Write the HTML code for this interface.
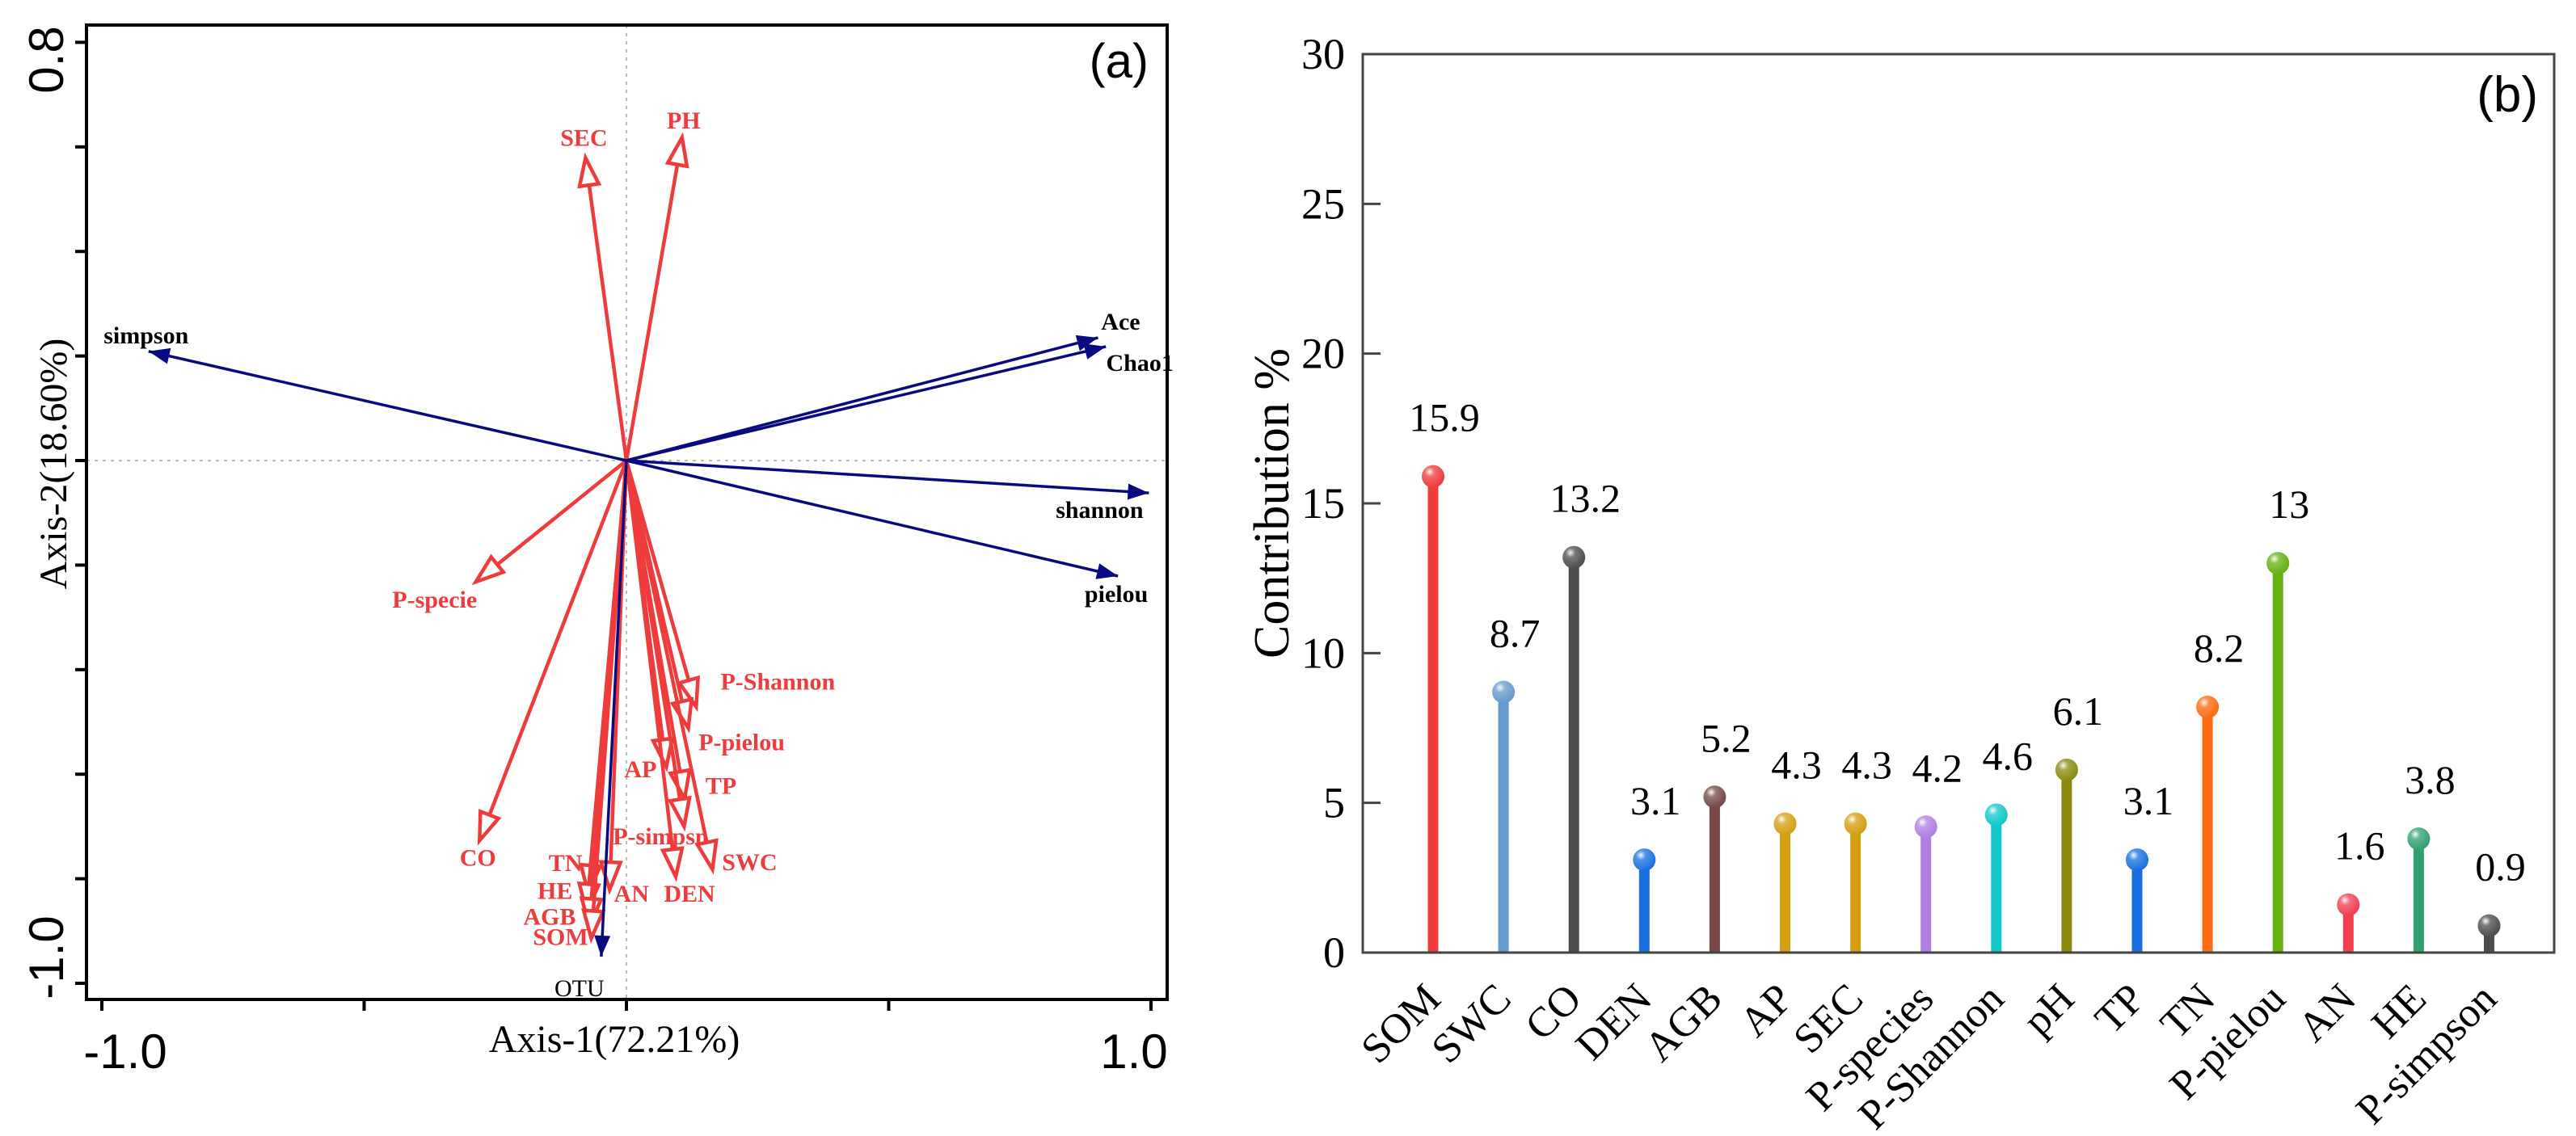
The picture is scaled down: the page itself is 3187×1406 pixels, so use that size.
<!DOCTYPE html>
<html><head><meta charset="utf-8"><style>
html,body{margin:0;padding:0;background:#fff;}
svg{display:block;}
</style></head><body>
<svg id="fig" xmlns="http://www.w3.org/2000/svg" width="3187" height="1406" viewBox="0 0 3187 1406">
<defs>
<radialGradient id="shine" cx="0.35" cy="0.3" r="0.7">
<stop offset="0" stop-color="#fff" stop-opacity="0.95"/>
<stop offset="0.3" stop-color="#fff" stop-opacity="0.25"/>
<stop offset="1" stop-color="#fff" stop-opacity="0"/>
</radialGradient>
</defs>
<g id="pa"></g>
<g id="pb"></g>
</svg>
<script>
// ---------- Panel A data ----------
const envNames = ["SEC","PH","P-specie","CO","P-Shannon","P-pielou","AP","TP","P-simpsn","SWC","DEN","AN","TN","HE","AGB","SOM"];
const envX = [-0.078,0.106,-0.287,-0.280,0.133,0.118,0.076,0.111,0.110,0.164,0.094,-0.032,-0.073,-0.076,-0.071,-0.067];
const envY = [0.579,0.618,-0.232,-0.727,-0.471,-0.512,-0.586,-0.647,-0.700,-0.782,-0.796,-0.821,-0.827,-0.863,-0.891,-0.914];
const divNames = ["simpson","Ace","Chao1","shannon","pielou","OTU"];
const divX = [-0.911,0.899,0.914,0.996,0.937,-0.048];
const divY = [0.209,0.235,0.218,-0.062,-0.221,-0.949];
const xTickLabels = ["-1.0","1.0"];
const yTickLabels = ["0.8","-1.0"];
// label offsets (pixels, style only)
const envLabelOff = [[-2,-17],[2,-13],[-51,30],[-2,29],[101,-23],[66,25],[-32,11],[45,-8],[-29,20],[46,-1],[17,29],[27,13],[-28,-29],[-39,-18],[-49,-4],[-38,6]];
const divLabelOff = [[-3,-12],[28,-12],[42,28],[-61,29],[-2,30],[-27,47]];

// ---------- Panel B data ----------
const cats = ["SOM","SWC","CO","DEN","AGB","AP","SEC","P-species","P-Shannon","pH","TP","TN","P-pielou","AN","HE","P-simpson"];
const vals = [15.9,8.7,13.2,3.1,5.2,4.3,4.3,4.2,4.6,6.1,3.1,8.2,13,1.6,3.8,0.9];
const valLabels = ["15.9","8.7","13.2","3.1","5.2","4.3","4.3","4.2","4.6","6.1","3.1","8.2","13","1.6","3.8","0.9"];
const bTicks = [0,5,10,15,20,25,30];
const colors = ["#ee3b3b","#6699cc","#4d4d4d","#1a6fe0","#774747","#d4a012","#d4a012","#b07ee0","#12c8c8","#8a8a10","#1a6fe0","#ff6a10","#66b010","#f04050","#30a070","#4d4d4d"];

const NS="http://www.w3.org/2000/svg";
function mk(tag, attrs, parent){const e=document.createElementNS(NS,tag);for(const k in attrs)e.setAttribute(k,attrs[k]);parent.appendChild(e);return e;}

// ---------- Draw Panel A ----------
const pa=document.getElementById('pa');
const ax={L:107,R:1444,T:31,B:1237,ox:775,oy:570,ux:649,uy:647};
const sx=v=>ax.ox+v*ax.ux, sy=v=>ax.oy-v*ax.uy;
let e;
e=mk('line',{x1:sx(0),y1:ax.T,x2:sx(0),y2:ax.B,stroke:'#bbb','stroke-width':2,'stroke-dasharray':'4 6'},pa);


e=mk('line',{x1:ax.L,y1:sy(0),x2:ax.R,y2:sy(0),stroke:'#bbb','stroke-width':2,'stroke-dasharray':'4 6'},pa);


for(let i=0;i<=4;i++){const v=-1+i*0.5;
 e=mk('line',{x1:sx(v),y1:ax.B,x2:sx(v),y2:ax.B+14,stroke:'#000','stroke-width':4},pa);
 
 }
for(let i=0;i<=9;i++){const v=0.8-i*0.2;
 e=mk('line',{x1:ax.L-14,y1:sy(v),x2:ax.L,y2:sy(v),stroke:'#000','stroke-width':4},pa);
 
 }
[[-1,155],[1,1403]].forEach((p,i)=>{e=mk('text',{x:p[1],y:1322,'text-anchor':'middle','font-family':'Liberation Sans, sans-serif','font-size':60},pa);e.textContent=xTickLabels[i];
 
 });
[[0.8,74],[-1.0,1185]].forEach((p,i)=>{e=mk('text',{x:0,y:0,transform:`translate(78,${p[1]}) rotate(-90)`,'text-anchor':'middle','font-family':'Liberation Sans, sans-serif','font-size':60},pa);e.textContent=yTickLabels[i];
 
 });
e=mk('text',{x:760,y:1302,'text-anchor':'middle','font-family':'Liberation Serif, serif','font-size':48},pa);e.textContent='Axis-1(72.21%)';


e=mk('text',{x:0,y:0,transform:'translate(82,574) rotate(-90)','text-anchor':'middle','font-family':'Liberation Serif, serif','font-size':48},pa);e.textContent='Axis-2(18.60%)';


e=mk('text',{x:1421,y:96,'text-anchor':'end','font-family':'Liberation Sans, sans-serif','font-size':60},pa);e.textContent='(a)';


e=mk('line',{x1:665,y1:1236,x2:775,y2:1236,stroke:'#000','stroke-width':2},pa);



function arrowHead(x0,y0,x1,y1,len,w){const dx=x1-x0,dy=y1-y0,d=Math.hypot(dx,dy),ux=dx/d,uy=dy/d;
 const bx=x1-ux*len,by=y1-uy*len;return `${x1},${y1} ${bx-uy*w/2},${by+ux*w/2} ${bx+uy*w/2},${by-ux*w/2}`;}
envNames.forEach((n,i)=>{const x1=sx(envX[i]),y1=sy(envY[i]),x0=sx(0),y0=sy(0);
 const d=Math.hypot(x1-x0,y1-y0),k=(d-30)/d;
 const g=mk('g',{},pa);
 
 
 mk('line',{x1:x0,y1:y0,x2:x0+(x1-x0)*k,y2:y0+(y1-y0)*k,stroke:'#ee3b3b','stroke-width':4.5},g);
 mk('polygon',{points:arrowHead(x0,y0,x1,y1,34,24),fill:'#fff',stroke:'#ee3b3b','stroke-width':4.5,'stroke-linejoin':'miter'},g);
 const t=mk('text',{x:x1+envLabelOff[i][0],y:y1+envLabelOff[i][1]+2,'text-anchor':'middle','font-family':'Liberation Serif, serif','font-size':30,'font-weight':'bold',fill:'#ee3b3b'},g);
 t.textContent=n;
 
 
});
divNames.forEach((n,i)=>{const x1=sx(divX[i]),y1=sy(divY[i]),x0=sx(0),y0=sy(0);
 const g=mk('g',{},pa);
 
 
 mk('line',{x1:x0,y1:y0,x2:x1,y2:y1,stroke:'#0a0a80','stroke-width':3.5},g);
 mk('polygon',{points:arrowHead(x0,y0,x1,y1,26,20),fill:'#0a0a80'},g);
 const t=mk('text',{x:x1+divLabelOff[i][0],y:y1+divLabelOff[i][1]+2,'text-anchor':'middle','font-family':'Liberation Serif, serif','font-size':30,'font-weight':n==='OTU'?'normal':'bold',fill:'#000'},g);
 t.textContent=n;
 
 
});
e=mk('rect',{x:ax.L,y:ax.T,width:ax.R-ax.L,height:ax.B-ax.T,fill:'none',stroke:'#000','stroke-width':4},pa);



// ---------- Draw Panel B ----------
const pb=document.getElementById('pb');
const bx={L:1686,R:3160,T:67,B:1179,x0:1773,step:87.1,ymax:30};
const bxp=i=>bx.x0+i*bx.step, byp=v=>bx.B-(v/bx.ymax)*(bx.B-bx.T);
bTicks.forEach(v=>{
 e=mk('line',{x1:bx.L,y1:byp(v),x2:bx.L+22,y2:byp(v),stroke:'#444','stroke-width':3},pb);
 
 
 e=mk('text',{x:1664,y:byp(v)+18,'text-anchor':'end','font-family':'Liberation Serif, serif','font-size':54},pb);e.textContent=String(v);
 
 
});
e=mk('text',{x:0,y:0,transform:'translate(1594,623) rotate(-90)','text-anchor':'middle','font-family':'Liberation Serif, serif','font-size':62},pb);e.textContent='Contribution %';


e=mk('text',{x:3140,y:138,'text-anchor':'end','font-family':'Liberation Sans, sans-serif','font-size':62},pb);e.textContent='(b)';


cats.forEach((c,i)=>{const x=bxp(i),y=byp(vals[i]);
 const g=mk('g',{},pb);
 
 
 mk('line',{x1:x,y1:bx.B,x2:x,y2:y,stroke:colors[i],'stroke-width':13},g);
 mk('circle',{cx:x,cy:y,r:14,fill:colors[i]},g);
 mk('circle',{cx:x,cy:y,r:14,fill:'url(#shine)'},g);
 const t=mk('text',{x:x+14,y:y-56,'text-anchor':'middle','font-family':'Liberation Serif, serif','font-size':50},g);
 t.textContent=valLabels[i];
 
 
 const l=mk('text',{x:0,y:0,transform:`translate(${x+12},${bx.B+60}) rotate(-45)`,'text-anchor':'end','font-family':'Liberation Serif, serif','font-size':52},pb);
 l.textContent=c;
 
 
});
e=mk('rect',{x:bx.L,y:bx.T,width:bx.R-bx.L,height:bx.B-bx.T,fill:'none',stroke:'#444','stroke-width':3},pb);


</script>
</body></html>
